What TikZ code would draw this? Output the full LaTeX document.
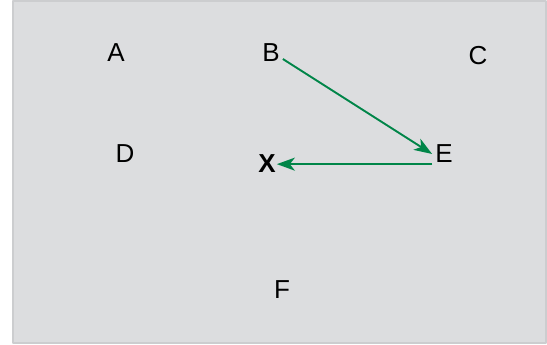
\documentclass[tikz,border=0pt]{standalone}
\usepackage{fontspec}
\setmainfont{Liberation Sans}
\usetikzlibrary{arrows.meta}
\definecolor{panelgray}{RGB}{220,221,223}
\definecolor{rimgray}{RGB}{204,205,207}
\definecolor{arrowgreen}{RGB}{0,133,72}
\tikzset{
  letter/.style={inner sep=1pt, font=\fontsize{26}{30}\selectfont},
  move/.style={draw=arrowgreen, line width=1.9pt, -{Stealth[length=18pt, width=13pt, inset=5pt]}}
}
\begin{document}
\begin{tikzpicture}[x=1pt, y=-1pt, line join=round]
  \useasboundingbox (0,0) rectangle (547,345);
  % panel
  \draw[rimgray, fill=panelgray, line width=1.5pt] (13,1) rectangle (546,343);
  % letters
  \node[letter] (A) at (116,53) {A};
  \node[letter] (B) at (271,53) {B};
  \node[letter] (C) at (478,56) {C};
  \node[letter] (D) at (125,154) {D};
  \node[letter] (E) at (444,154) {E};
  \node[letter, font=\fontsize{26}{30}\selectfont\bfseries] (X) at (267,164) {X};
  \node[letter] (F) at (282,290) {F};
  % arrows
  \draw[move] ([shift={(2,6)}]B.east) -- ([shift={(-2,0)}]E.west);
  \draw[move] ([shift={(-2,0)}]E.south west) -- (E.south west -| X.east);
\end{tikzpicture}
\end{document}
